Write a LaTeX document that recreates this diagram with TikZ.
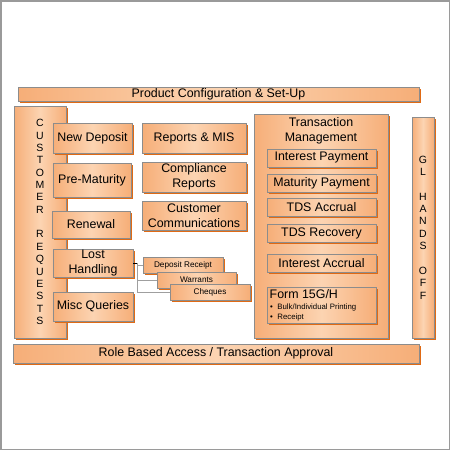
\documentclass[tikz,border=0pt]{standalone}
\usepackage{fontspec}
\setmainfont{Liberation Sans}
\usetikzlibrary{shadows}

\definecolor{peachedge}{HTML}{F6AE78}
\definecolor{peachmid}{HTML}{FCD4B2}
\definecolor{boxline}{HTML}{8C8C8C}
\definecolor{shadoworange}{HTML}{E06A14}
\definecolor{framegray}{HTML}{9A9A9A}

\tikzset{
  panel/.style={draw=boxline, line width=0.8pt, left color=peachedge, right color=peachedge,
    middle color=peachmid, inner sep=0pt, align=center,
    drop shadow={shadow xshift=2pt, shadow yshift=-2pt, fill=shadoworange, opacity=1},
    font=\fontsize{12.4}{15}\selectfont},
  smallpanel/.style={panel, font=\fontsize{8.2}{10}\selectfont},
  letters/.style={panel, font=\fontsize{10.5}{12.35}\selectfont},
  link/.style={draw=gray!75, line width=0.8pt}
}

\begin{document}
\begin{tikzpicture}[x=1pt, y=-1pt]

% frame

\useasboundingbox (0,0) rectangle (450,450);
\draw[framegray, line width=1.5pt] (0.75,0.75) rectangle (449.25,449.25);

% bars

\node[panel, minimum width=401pt, minimum height=14pt] (prodcfg) at (218.5,94) {Product Configuration \& Set-Up};
\node[panel, minimum width=406pt, minimum height=19pt] (rolebar) at (216,353.5) {Role Based Access / Transaction Approval};

% customer requests

\node[letters, minimum width=52pt, minimum height=232pt] (custreq) at (40,222)
  {C\\U\\S\\T\\O\\M\\E\\R\\[12.35pt]R\\E\\Q\\U\\E\\S\\T\\S};

\node[panel, minimum width=79pt, minimum height=30pt] (newdep) at (92.5,138) {New Deposit};
\node[panel, minimum width=78pt, minimum height=34pt] (premat) at (92,180) {Pre-Maturity};
\node[panel, minimum width=78pt, minimum height=27pt] (renewal) at (91,224.5) {Renewal};
\node[panel, minimum width=80pt, minimum height=28pt] (lost) at (93,263) {Lost\\Handling};
\node[panel, minimum width=80pt, minimum height=29pt] (misc) at (93,306.5) {Misc Queries};

% reports

\node[panel, minimum width=104pt, minimum height=30pt] (reports) at (194,138) {Reports \& MIS};
\node[panel, minimum width=104pt, minimum height=30pt] (compl) at (194,177) {Compliance\\Reports};
\node[panel, minimum width=104pt, minimum height=29pt] (custcomm) at (194,215.5) {Customer\\Communications};

% lost handling -> documents

\coordinate (lostjoin) at (137,263);
\draw[black, line width=0.8pt] (lost.east) -- (lostjoin);

\node[smallpanel, minimum width=80pt, minimum height=16pt] (deprcpt) at (183,265) {Deposit Receipt};
\node[smallpanel, minimum width=79pt, minimum height=16pt] (warrants) at (196.5,280) {Warrants};
\node[smallpanel, minimum width=80pt, minimum height=16pt] (cheques) at (210,292) {Cheques};

\draw[link] (lostjoin) |- (deprcpt.west);
\draw[link] (lostjoin) |- (warrants.west);
\draw[link] (lostjoin) |- (cheques.west);

% transaction management

\node[panel, minimum width=134pt, minimum height=224pt] (transmgmt) at (321,226) {};
\node[align=center, inner sep=0pt, font=\fontsize{12.4}{15}\selectfont] (tmtitle) at (321,130.5) {Transaction\\Management};

\node[panel, minimum width=109pt, minimum height=18pt] (intpay) at (321.5,158) {Interest Payment};
\node[panel, minimum width=109pt, minimum height=18pt] (matpay) at (321.5,183) {Maturity Payment};
\node[panel, minimum width=109pt, minimum height=18pt] (tdsacc) at (321.5,207) {TDS Accrual};
\node[panel, minimum width=109pt, minimum height=18pt] (tdsrec) at (321.5,233) {TDS Recovery};
\node[panel, minimum width=109pt, minimum height=18pt] (intacc) at (321.5,263) {Interest Accrual};
\node[panel, minimum width=109pt, minimum height=36pt] (form) at (321.5,305) {};
\node[anchor=west, inner sep=0pt, font=\fontsize{12.4}{15}\selectfont] (formtitle) at (269.5,294) {Form 15G/H};
\node[anchor=north west, align=left, inner sep=0pt, font=\fontsize{7.8}{10}\selectfont] (formitems) at (270,303.5)
  {\textbullet\hspace{4.5pt}Bulk/Individual Printing\\\textbullet\hspace{4.5pt}Receipt};

% gl hands off

\node[letters, minimum width=22pt, minimum height=221pt] (glhands) at (423,227.5)
  {G\\L\\[12.35pt]H\\A\\N\\D\\S\\[12.35pt]O\\F\\F};

\end{tikzpicture}
\end{document}
